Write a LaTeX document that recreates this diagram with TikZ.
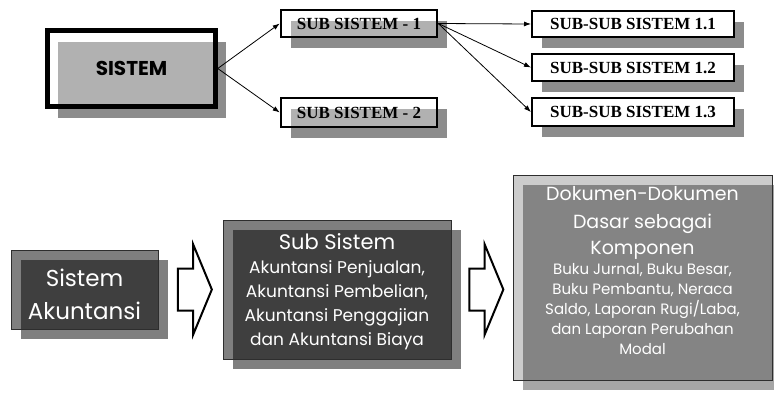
\documentclass[tikz,border=0pt]{standalone}
\usepackage{fontspec}
\usepackage{xcolor}
\usepackage{tikz}
\usetikzlibrary{positioning, arrows.meta, shadows, shapes.arrows, calc}
\setmainfont{Liberation Serif}
\newfontfamily\comicfont{Poppins}
\definecolor{shadowgray}{HTML}{8C8C8C}
\definecolor{edgegray}{HTML}{2E2E2E}

\tikzset{
  levelbox/.style={draw=black, line width=2.5pt, fill=white, fill opacity=0.33,
    text opacity=1, inner sep=0pt,
    font=\bfseries\fontsize{17}{17}\selectfont,
    drop shadow={shadow xshift=10pt, shadow yshift=-11pt, fill=shadowgray, opacity=1}},
  leafbox/.style={levelbox, fill opacity=1, line width=2pt},
  link/.style={line width=0.8pt, -{Latex[length=7pt, width=5pt]}},
  greybox/.style={draw=edgegray, line width=0.8pt, fill=black,
    text=white, text opacity=1, align=center, inner sep=0pt},
  darkbox/.style={greybox, fill opacity=0.5,
    drop shadow={shadow xshift=10pt, shadow yshift=-10pt, fill=black, opacity=0.5}},
  lightbox/.style={greybox, fill opacity=0.2,
    drop shadow={shadow xshift=10pt, shadow yshift=-10pt, fill=black, opacity=0.35}},
  hollowarrow/.style={single arrow, draw=black, line width=2pt, fill=white,
    minimum height=34pt, minimum width=0pt, inner xsep=0pt, inner ysep=20pt,
    single arrow head extend=24pt, single arrow tip angle=135,
    single arrow head indent=0pt}
}

\begin{document}
\begin{tikzpicture}[x=1pt, y=-1pt]
  \fill[white] (0,0) rectangle (774,397);
  \useasboundingbox (0,0) rectangle (774,397);

  % top: sistem and its parts
  \node[levelbox, line width=4.5pt, minimum width=168pt, minimum height=76pt,
        font=\comicfont\bfseries\fontsize{20}{20}\selectfont] (sistem) at (131.5,68.5) {SISTEM};
  \node[levelbox, minimum width=156pt, minimum height=27pt] (sub1) at (359,23.5) {SUB SISTEM - 1};
  \node[levelbox, minimum width=156pt, minimum height=29pt] (sub2) at (359,112.5) {SUB SISTEM - 2};
  \node[leafbox, minimum width=202pt, minimum height=26pt] (ss1) at (633,24) {SUB-SUB SISTEM 1.1};
  \node[leafbox, minimum width=202pt, minimum height=27pt] (ss2) at (633,67.5) {SUB-SUB SISTEM 1.2};
  \node[leafbox, minimum width=202pt, minimum height=28pt] (ss3) at (633,112) {SUB-SUB SISTEM 1.3};

  \draw[link] (sistem.east) -- (sub1.west);
  \draw[link] (sistem.east) -- (sub2.west);
  \foreach \leaf in {ss1, ss2, ss3}
    \draw[link] (sub1.east) -- (\leaf.west);

  % bottom: akuntansi
  \node[darkbox, minimum width=147pt, minimum height=79pt,
        font=\comicfont\fontsize{23}{33}\selectfont] (akun) at (84.5,289.5)
    {\mbox{}\\[-6.5pt]Sistem\\Akuntansi};
  \node[darkbox, minimum width=228pt, minimum height=139pt,
        font=\comicfont\fontsize{17}{24}\selectfont] (subsis) at (337,289.5)
    {\mbox{}\\[-3pt]
     {\fontsize{21}{24}\selectfont Sub Sistem}\\
     Akuntansi Penjualan,\\
     Akuntansi Pembelian,\\
     Akuntansi Penggajian\\
     dan Akuntansi Biaya};
  \node[lightbox, minimum width=259pt, minimum height=205pt,
        font=\comicfont\fontsize{15}{20}\selectfont] (dokumen) at (642.5,277.5)
    {{\fontsize{19}{20}\selectfont Dokumen-Dokumen}\\[8pt]
     {\fontsize{19}{20}\selectfont Dasar sebagai}\\[6pt]
     {\fontsize{19}{20}\selectfont Komponen}\\
     Buku Jurnal, Buku Besar,\\
     Buku Pembantu, Neraca\\
     Saldo, Laporan Rugi/Laba,\\
     dan Laporan Perubahan\\
     Modal\\[-6pt]\mbox{}};

  \node[hollowarrow] (arr1) at ($(akun.east)!0.5!(subsis.west)$) {};
  \coordinate (mid2) at ($(subsis.east)!0.5!(dokumen.west)$);
  \node[hollowarrow] (arr2) at (mid2 |- arr1) {};
\end{tikzpicture}
\end{document}
